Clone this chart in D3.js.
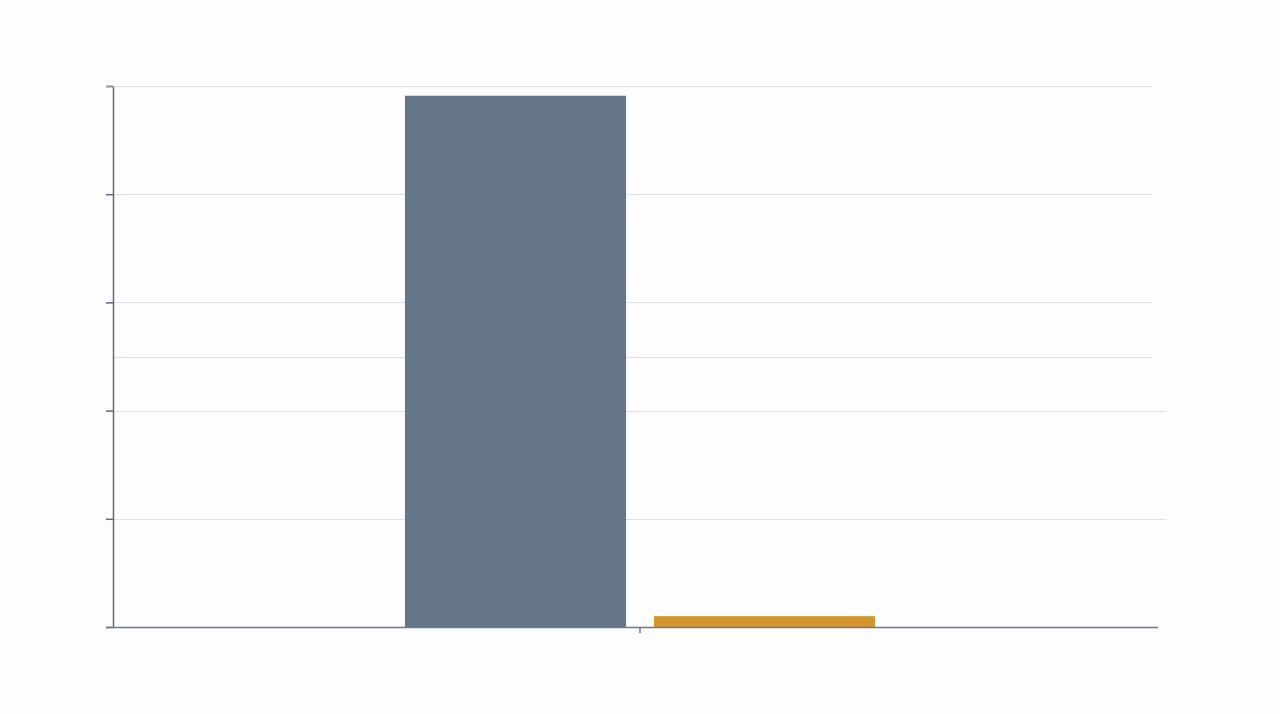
<!DOCTYPE html>
<html>
<head>
<meta charset="utf-8">
<script src="https://cdn.jsdelivr.net/npm/d3@7"></script>
<style>
  html, body { margin: 0; padding: 0; background: #fdfdfd; }
  svg { display: block; }
</style>
</head>
<body>
<svg id="chart" width="1280" height="714"></svg>
<script>
const categories = ["A"];
const seriesKeys = ["s1", "s2"];
const seriesValues = { s1: [4.91], s2: [0.1] };
const yTicks = [0, 1, 2, 3, 4, 5];
const gridValues = [1, 2, 2.5, 3, 4, 5];
const colors = { s1: "#667689", s2: "#d4962c" };

(function () {
const svg = d3.select("#chart");
const mLeft = 113, mRight = 1167, mTop = 86, mBottom = 627;

const y = d3.scaleLinear().domain([0, 5]).range([mBottom, mTop]);
const x0 = d3.scaleBand().domain(categories).range([mLeft, mRight]).paddingInner(0).paddingOuter(0.621);
const x1 = d3.scaleBand().domain(seriesKeys).range([0, x0.bandwidth()]).paddingInner(0.112).paddingOuter(0);

// gridlines
svg.append("g").selectAll("line").data(gridValues).join("line")
  .attr("x1", mLeft).attr("x2", d => (d === 1 || d === 2) ? 1166 : 1152)
  .attr("y1", d => Math.round(y(d)) + 0.5).attr("y2", d => Math.round(y(d)) + 0.5)
  .attr("stroke", "#dcdfe3").attr("stroke-width", 1);

// bars
const rows = categories.map((c, i) => ({ c, vals: seriesKeys.map(k => ({ k, v: seriesValues[k][i] })) }));
svg.append("g").selectAll("g").data(rows).join("g")
  .attr("transform", d => `translate(${x0(d.c)},0)`)
  .selectAll("rect").data(d => d.vals).join("rect")
  .attr("x", d => x1(d.k)).attr("width", x1.bandwidth())
  .attr("y", d => y(d.v)).attr("height", d => y(0) - y(d.v))
  .attr("fill", d => colors[d.k]);

// y axis
const yAxis = svg.append("g").attr("transform", `translate(${mLeft},0)`)
  .call(d3.axisLeft(y).tickValues(yTicks).tickSize(7).tickSizeOuter(0).tickFormat(""));
yAxis.selectAll("path, line").attr("stroke", "#5b6b82").attr("stroke-width", 1.5);
yAxis.selectAll(".tick").filter(d => d === 5).select("line").attr("stroke", "#8a94a2").attr("stroke-width", 2);

// x axis
const xAxis = svg.append("g").attr("transform", `translate(0,${mBottom})`)
  .call(d3.axisBottom(x0).tickSize(6).tickSizeOuter(0).tickFormat(""));
xAxis.select(".domain").attr("d", `M106,0.5H1158`).attr("stroke", "#6b7a8e").attr("stroke-width", 1.5);
xAxis.selectAll(".tick line").attr("stroke", "#6b7a8e").attr("stroke-width", 1.5);
})();
</script>
</body>
</html>
